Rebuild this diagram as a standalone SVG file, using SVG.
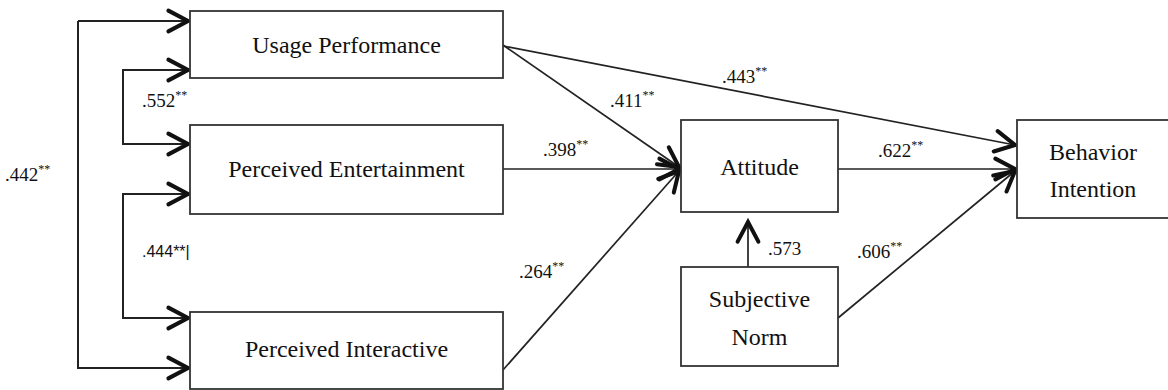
<svg xmlns="http://www.w3.org/2000/svg" width="1168" height="390" viewBox="0 0 1168 390">
<style>
.box{fill:#fff;stroke:#333;stroke-width:1.8}
.c{fill:none;stroke:#222;stroke-width:2}
.d{fill:none;stroke:#222;stroke-width:1.7}
</style>
<defs>
<marker id="ah" markerUnits="userSpaceOnUse" markerWidth="30" markerHeight="30" refX="0" refY="0" viewBox="-22 -12 26 24" orient="auto" overflow="visible">
<path d="M-17,-9 L0,0 L-17,9" fill="none" stroke="#111" stroke-width="3.5" stroke-linecap="round" stroke-linejoin="miter"/>
</marker>
</defs>
<g id="connectors">
<path class="c" d="M78,21 V368 H188" marker-end="url(#ah)"/>
<path class="c" d="M78,21 H188" marker-end="url(#ah)"/>
<path class="c" d="M123,144 V70 H188" marker-end="url(#ah)"/>
<path class="c" d="M123,70 V144 H188" marker-end="url(#ah)"/>
<path class="c" d="M123,318 V194 H188" marker-end="url(#ah)"/>
<path class="c" d="M123,194 V318 H188" marker-end="url(#ah)"/>
<path class="d" d="M503,45 L679,167" marker-end="url(#ah)"/>
<path class="d" d="M503,46 L1015,145" marker-end="url(#ah)"/>
<path class="d" d="M503,169 L679,169" marker-end="url(#ah)"/>
<path class="d" d="M503,370 L679,171" marker-end="url(#ah)"/>
<path class="d" d="M838,169 L1015,169" marker-end="url(#ah)"/>
<path class="d" d="M838,318 L1015,171" marker-end="url(#ah)"/>
<path class="d" d="M748,267 L748,222" marker-end="url(#ah)"/>
</g>
<g id="labels" font-family="Liberation Serif, serif" font-size="19" fill="#111">
<text x="5" y="181">.442<tspan font-size="12" dy="-8">**</tspan></text>
<text x="142" y="107">.552<tspan font-size="12" dy="-8">**</tspan></text>
<text x="142" y="257" font-family="Liberation Sans, sans-serif" font-size="16">.444**|</text>
<text x="610" y="107">.411<tspan font-size="12" dy="-8">**</tspan></text>
<text x="722" y="83">.443<tspan font-size="12" dy="-8">**</tspan></text>
<text x="543" y="156">.398<tspan font-size="12" dy="-8">**</tspan></text>
<text x="519" y="278">.264<tspan font-size="12" dy="-8">**</tspan></text>
<text x="878" y="157">.622<tspan font-size="12" dy="-8">**</tspan></text>
<text x="768" y="255">.573</text>
<text x="857" y="258">.606<tspan font-size="12" dy="-8">**</tspan></text>
</g>
<g font-family="Liberation Serif, serif" font-size="24" fill="#111" text-anchor="middle">
<g id="usage"><rect class="box" x="190" y="11" width="313" height="67"/><text x="346.5" y="53">Usage Performance</text></g>
<g id="entertainment"><rect class="box" x="190" y="125" width="313" height="89"/><text x="346.5" y="177">Perceived Entertainment</text></g>
<g id="interactive"><rect class="box" x="190" y="312" width="313" height="77"/><text x="346.5" y="357">Perceived Interactive</text></g>
<g id="attitude"><rect class="box" x="681" y="120" width="157" height="92"/><text x="759.5" y="175">Attitude</text></g>
<g id="subjective"><rect class="box" x="681" y="267" width="157" height="99"/><text x="759.5" y="307">Subjective</text><text x="759.5" y="345">Norm</text></g>
<g id="behavior"><rect class="box" x="1017" y="120" width="160" height="98"/><text x="1093" y="160">Behavior</text><text x="1093" y="197">Intention</text></g>
</g>
</svg>
